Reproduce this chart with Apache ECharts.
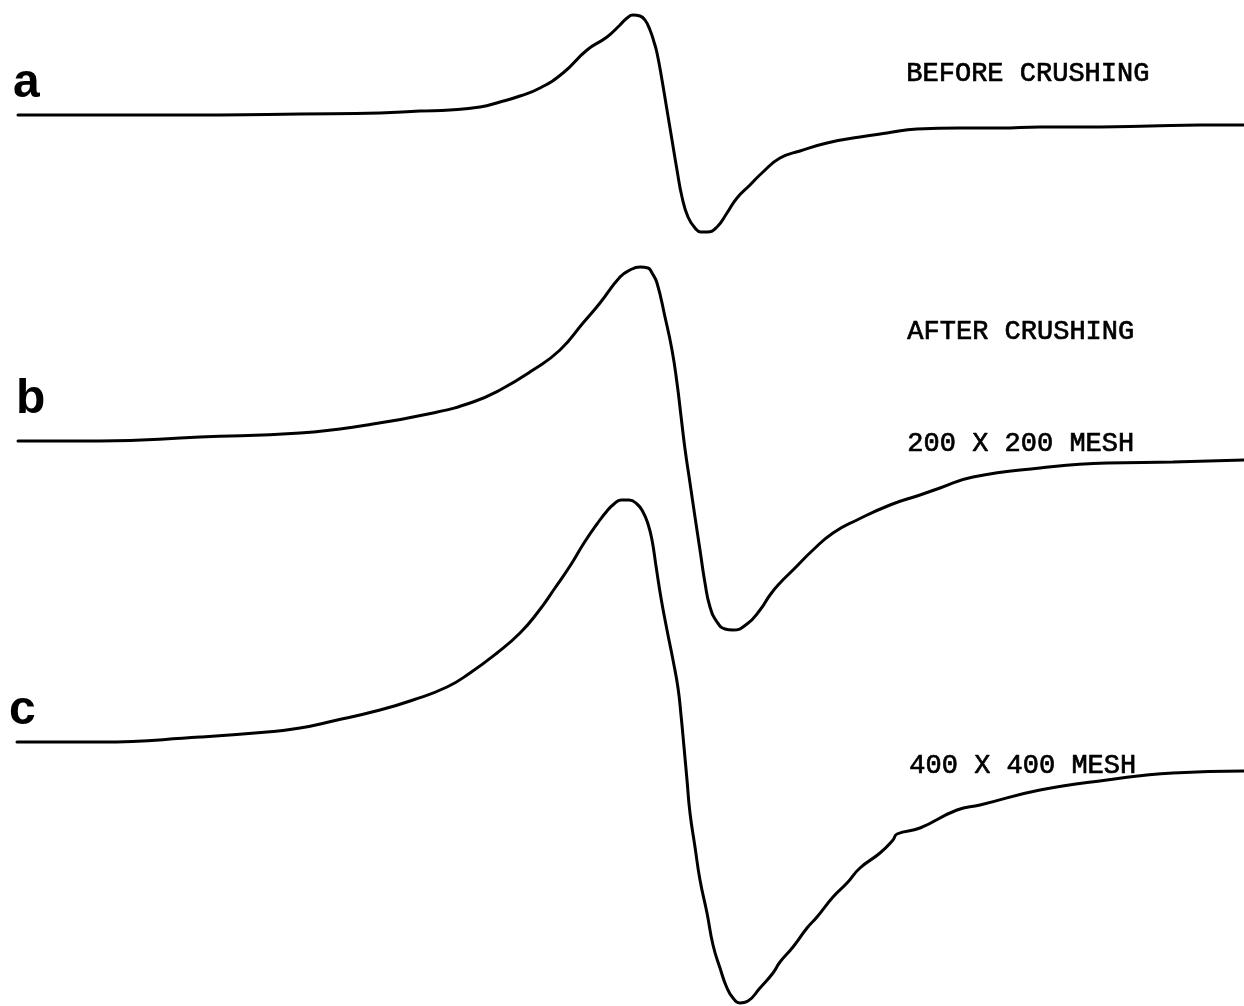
<!DOCTYPE html>
<html>
<head>
<meta charset="utf-8">
<title>EPR spectra before and after crushing</title>
<script src="https://cdn.jsdelivr.net/npm/echarts@6/dist/echarts.min.js"></script>
<style>
  html, body { margin: 0; padding: 0; background: #fff; }
  #chart { width: 1244px; height: 1006px; }
</style>
</head>
<body>
<div id="chart"></div>
<script>
// Field position (arbitrary units, increasing to the right) and recorder
// pen deflection (chart divisions measured downward from the top edge).
const traceA = [
  [18,115],[60,115],[140,115],[220,115],[300,114],[380,113],[420,111],[450,110],
  [480,107],[500,102],[520,96],[540,88],[563,73],[587,50],[607,37],[620,25],
  [627,18],[633,15],[640,16],[645,20],[650,30],[654,42],[657,53],[662,80],
  [667,110],[672,140],[677,170],[682,197],[688,217],[695,228],[701,232],[707,232],
  [717,227],[727,213],[737,198],[750,185],[763,172],[780,158],[800,151],[827,143],
  [860,137],[887,133],[917,129],[960,128],[1000,128],[1040,127],[1100,127],
  [1150,126],[1200,125],[1244,125]
];

const traceB = [
  [18,441],[100,441],[200,437],[300,433],[367,425],[433,413],[473,402],[500,390],
  [533,370],[560,350],[583,323],[600,303],[620,277],[630,270],[640,267],[648,268],
  [652,273],[657,283],[665,317],[672,350],[677,383],[681,416],[685,449],[690,483],
  [695,517],[700,550],[705,583],[710,607],[717,622],[725,629],[733,630],[747,624],
  [760,610],[770,595],[780,583],[793,570],[813,550],[833,533],[857,520],[890,505],
  [920,495],[940,488],[973,477],[1040,468],[1107,463],[1173,462],[1244,460]
];

const traceC = [
  [17,742],[100,742],[200,737],[267,732],[300,728],[333,721],[380,710],[413,700],
  [447,687],[470,673],[497,653],[520,633],[538,612],[555,588],[570,566],[584,543],
  [597,524],[607,511],[614,504],[621,500],[629,500],[637,504],[643,512],[648,524],
  [652,540],[656,566],[661,598],[667,630],[673,660],[678,688],[681,715],[684,747],
  [687,780],[690,813],[695,847],[700,880],[707,913],[713,945],[720,968],[727,988],
  [733,998],[740,1003],[748,1001],[760,988],[773,973],[780,962],[793,947],[807,928],
  [817,917],[833,897],[847,883],[860,868],[880,853],[893,840],[897,834],[920,828],
  [957,810],[980,805],[1040,790],[1107,780],[1173,773],[1244,771]
];

const traceLetters = ['a', 'b', 'c'];
const sampleNotes = ['BEFORE CRUSHING', 'AFTER CRUSHING', '200 X 200 MESH', '400 X 400 MESH'];

const chart = echarts.init(document.getElementById('chart'), null, { renderer: 'canvas' });

function trace(name, data) {
  return {
    name: name,
    type: 'line',
    data: data,
    showSymbol: false,
    smooth: 0.5,
    silent: true,
    animation: false,
    lineStyle: { color: '#000', width: 3, cap: 'round', join: 'round' }
  };
}

const letterFont = 'bold 48px "Liberation Sans", Arial, sans-serif';
const noteFont = '27px "Liberation Mono", "DejaVu Sans Mono", monospace';

function note(text, left, top) {
  return {
    type: 'text', left: left, top: top,
    style: { text: text, font: noteFont, fill: '#000', stroke: '#000', lineWidth: 0.7 }
  };
}

chart.setOption({
  backgroundColor: '#fff',
  animation: false,
  grid: { left: 0, right: 0, top: 0, bottom: 0 },
  xAxis: { type: 'value', min: 0, max: 1244, show: false },
  yAxis: { type: 'value', min: 0, max: 1006, inverse: true, show: false },
  series: [
    trace(traceLetters[0], traceA),
    trace(traceLetters[1], traceB),
    trace(traceLetters[2], traceC)
  ],
  graphic: [
    { type: 'text', left: 13, top: 60, style: { text: traceLetters[0], font: letterFont, fill: '#000' } },
    { type: 'text', left: 16, top: 376, style: { text: traceLetters[1], font: letterFont, fill: '#000' } },
    { type: 'text', left: 9, top: 687, style: { text: traceLetters[2], font: letterFont, fill: '#000' } },
    note(sampleNotes[0], 906, 60),
    note(sampleNotes[1], 907, 318),
    note(sampleNotes[2], 907, 430),
    note(sampleNotes[3], 909, 752)
  ]
});
</script>
</body>
</html>
